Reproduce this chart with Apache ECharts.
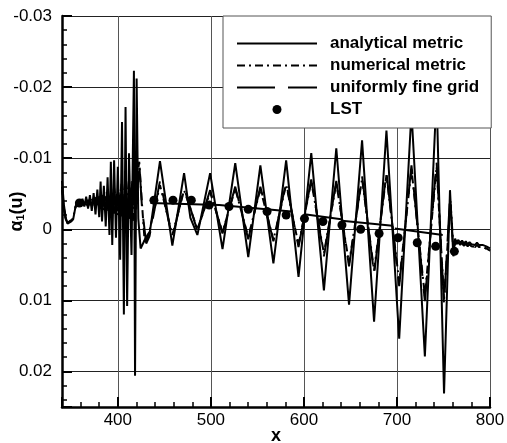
<!DOCTYPE html>
<html lang="en">
<head>
<meta charset="UTF-8">
<title>alpha_i(u)</title>
<script src="https://cdn.jsdelivr.net/npm/echarts@6/dist/echarts.min.js"></script>
<style>
  html, body { margin: 0; padding: 0; background: #fff; }
  #main { width: 507px; height: 443px; }
</style>
</head>
<body>
<div id="main"></div>
<script>
// data, [x, alpha]
var analytical = [
  [340,-0.0068],[342,-0.0035],[344,-0.0016],[346,-0.0008],[348,-0.0007],[350,-0.0011],[352,-0.0014],
  [354,-0.0028],[356,-0.0038],[358,-0.0040],[360,-0.0034],[362,-0.0043],[364,-0.0032],[366,-0.0046],
  [368,-0.0029],[370,-0.0048],[372,-0.0026],[374,-0.0051],[376,-0.0021],[378,-0.0056],[380,-0.0017],
  [381.5,-0.0067],[383,-0.0011],[385,-0.0061],[387,-0.0004],[389,-0.0073],[391,0.0008],[392.5,-0.0095],
  [394,0.0022],[396,-0.0097],[398,0.0012],[400,-0.0088],[402.5,0.0043],[404.5,-0.0151],[406.5,0.0120],
  [408.3,-0.0172],[410,0.0108],[412,-0.0107],[414.7,0.0036],[417.3,-0.0223],[418.5,0.0206],[420.2,-0.0212],
  [422,-0.0015],[424.5,0.0027],[430,0.0012],[434.5,0.0003],[445.3,-0.0096],[458.6,0.0023],[471.2,-0.0079],
  [478,-0.0016],[485.5,0.0008],[499.2,-0.0079],[512.5,0.0028],[526.2,-0.0093],[540.2,0.0039],[553.2,-0.0090],
  [567.2,0.0048],[580.9,-0.0097],[594.2,0.0067],[607.9,-0.0107],[621.5,0.0086],[634.8,-0.0114],[648.5,0.0106],
  [662.5,-0.0125],[675.4,0.0130],[688.7,-0.0139],[702.4,0.0154],[715.6,-0.0165],[730,0.0179],[742.6,-0.0190],
  [750.6,0.0231],[757,-0.0055],[760.6,0.0038],[762.5,0.0013]
];
var numerical = [
  [340,-0.0060],[342,-0.0030],[344,-0.0015],[346,-0.0009],[348,-0.0008],[350,-0.0012],[352,-0.0016],
  [354,-0.0029],[356,-0.0037],[360,-0.0036],[364,-0.0040],[368,-0.0032],[372,-0.0043],[376,-0.0031],
  [380,-0.0047],[384,-0.0027],[388,-0.0052],[392,-0.0024],[396,-0.0058],[400,-0.0020],[404,-0.0064],
  [408,-0.0015],[412,-0.0070],[416,-0.0010],[419.5,-0.0060],[423,-0.0095],[426,-0.0035],[429,0.0020],
  [433,0.0008],[445.3,-0.0062],[458.6,0.0008],[471.2,-0.0055],[485.5,0.0000],[499.2,-0.0052],[512.5,0.0004],
  [526.2,-0.0057],[540.2,0.0011],[553.2,-0.0057],[567.2,0.0015],[580.9,-0.0063],[594.2,0.0022],[607.9,-0.0067],
  [621.5,0.0034],[634.8,-0.0065],[648.5,0.0048],[662.5,-0.0071],[675.4,0.0058],[688.7,-0.0076],[702.4,0.0074],
  [715.6,-0.0085],[730,0.0094],[742.6,-0.0088],[750.6,0.0098],[757.5,-0.0040],[761,0.0032],[763,0.0016]
];
var uniform = [
  [340,-0.0055],[342,-0.0028],[344,-0.0014],[346,-0.0009],[348,-0.0009],[350,-0.0013],[352,-0.0018],
  [354,-0.0030],[356,-0.0037],[360,-0.0038],[364,-0.0034],[368,-0.0041],[372,-0.0033],[376,-0.0044],
  [380,-0.0030],[384,-0.0048],[388,-0.0026],[392,-0.0055],[396,-0.0022],[400,-0.0060],[404,-0.0018],
  [408,-0.0068],[412,-0.0012],[416,-0.0075],[419,-0.0010],[423,-0.0093],[426,-0.0030],[430.5,0.0020],
  [434,0.0010],[445.3,-0.0068],[458.6,0.0012],[471.2,-0.0058],[485.5,0.0002],[499.2,-0.0055],[512.5,0.0006],
  [526.2,-0.0060],[540.2,0.0014],[553.2,-0.0060],[567.2,0.0017],[580.9,-0.0066],[594.2,0.0025],[607.9,-0.0070],
  [621.5,0.0038],[634.8,-0.0068],[648.5,0.0052],[662.5,-0.0075],[675.4,0.0063],[688.7,-0.0080],[702.4,0.0080],
  [715.6,-0.0090],[730,0.0101],[742.6,-0.0095],[750.6,0.0105],[757,-0.0045],[760.6,0.0030],[762.5,0.0015]
];
// smooth wiggly part after the jump, shared by the three curves
var tail = [
  [764,0.0018],[766,0.0015],[768,0.0019],[770,0.0016],[772,0.0020],[774,0.0017],[776,0.0021],
  [778,0.0018],[780,0.0021],[782,0.0019],[784,0.0022],[786,0.0019],[788,0.0022],[790,0.0020],
  [792,0.0022],[794,0.0021],[796,0.0024],[798,0.0025],[800,0.0027]
];
var lstPoints = [
  [358.7,-0.0037],[378.5,-0.0040],[398.3,-0.0040],[418,-0.0040],[438.8,-0.0041],[459.3,-0.0041],
  [479,-0.0041],[498.2,-0.0034],[519.5,-0.0032],[540.2,-0.0028],[560.4,-0.0025],[580.9,-0.0020],
  [600.6,-0.0015],[620.4,-0.0011],[640.9,-0.0006],[661,0.0000],[680.8,0.0006],[701.3,0.0012],
  [721.8,0.0019],[741.6,0.0024],[761.7,0.0031]
];
// straight pieces running through the LST points (null = break)
var lstLine = [
  [435,-0.0037],[509,-0.0034],[586.4,-0.0025],null,
  [600.6,-0.0021],[640.2,-0.0014],null,
  [640.9,-0.0012],[695.2,-0.0005],null,
  [697.7,-0.0001],[749.2,0.0008]
];
var xLabels = [400, 500, 600, 700, 800];

var font = 'Liberation Sans, Arial, Helvetica, sans-serif';

function withTail(arr, shift) {
  return arr.concat(tail.map(function (p) { return [p[0], p[1] + shift]; }));
}

var noSymbol = { color: 'rgba(0,0,0,0)', borderWidth: 0, opacity: 0 };

var chart = echarts.init(document.getElementById('main'));

var option = {
  animation: false,
  backgroundColor: '#fff',
  grid: [
    { left: 62, top: 16, right: 17, bottom: 36, containLabel: false, outerBoundsMode: 'none' },
    { left: 62, top: 16, right: 17, bottom: 36, containLabel: false, outerBoundsMode: 'none' }   // only carries the minor ticks
  ],
  legend: {
    orient: 'vertical',
    left: 223, top: 16,
    padding: [19, 12, 10, 13],
    itemWidth: 80, itemHeight: 9, itemGap: 5,
    backgroundColor: '#fff',
    borderColor: '#555', borderWidth: 1,
    textStyle: { fontFamily: font, fontWeight: 'bold', fontSize: 17, color: '#000', padding: [0, 0, 0, 8] },
    data: [
      { name: 'analytical metric', itemStyle: noSymbol },
      { name: 'numerical metric', itemStyle: noSymbol },
      { name: 'uniformly fine grid', itemStyle: noSymbol },
      'LST'
    ]
  },
  xAxis: [{
    type: 'value', gridIndex: 0, min: 340, max: 800, splitNumber: 5,
    name: 'x', nameLocation: 'middle', nameGap: 20, nameMoveOverlap: false,
    nameTextStyle: { fontFamily: font, fontWeight: 'bold', fontSize: 18, color: '#000' },
    axisLine: { onZero: false, lineStyle: { color: '#000', width: 2.5 } },
    axisTick: { inside: true, length: 10, lineStyle: { color: '#000', width: 2 } },
    axisLabel: {
      color: '#000', fontFamily: font, fontSize: 17, margin: 5,
      formatter: function (v) { return xLabels.indexOf(Math.round(v)) >= 0 && Math.abs(v - Math.round(v)) < 1e-6 ? String(Math.round(v)) : ''; }
    },
    splitLine: { show: true, lineStyle: { color: '#555', width: 1 } }
  }, {
    type: 'value', gridIndex: 1, min: 340, max: 800, interval: 20,
    axisLine: { show: false, onZero: false },
    axisTick: { inside: true, length: 5, lineStyle: { color: '#000', width: 1.5 } },
    axisLabel: { show: false },
    splitLine: { show: false }
  }],
  yAxis: [{
    type: 'value', gridIndex: 0, min: -0.03, max: 0.025, interval: 0.01, inverse: true,
    name: '{a|α}{s|1}{a|(u)}', nameLocation: 'middle', nameGap: 36, nameMoveOverlap: false,
    nameTextStyle: {
      rich: {
        a: { fontFamily: font, fontWeight: 'bold', fontSize: 18, color: '#000' },
        s: { fontFamily: font, fontWeight: 'bold', fontSize: 11, color: '#000', verticalAlign: 'bottom' }
      }
    },
    axisLine: { onZero: false, lineStyle: { color: '#000', width: 2.5 } },
    axisTick: { inside: true, length: 10, lineStyle: { color: '#000', width: 2 } },
    axisLabel: {
      color: '#000', fontFamily: font, fontSize: 17, margin: 10,
      formatter: function (v) {
        if (Math.abs(v * 100 - Math.round(v * 100)) > 1e-6) return '';
        var r = Math.round(v * 100) / 100;
        return r === 0 ? '0' : r.toFixed(2);
      }
    },
    splitLine: { show: true, lineStyle: { color: '#222', width: 1 } }
  }, {
    type: 'value', gridIndex: 1, min: -0.03, max: 0.025, interval: 0.002, inverse: true,
    axisLine: { show: false, onZero: false },
    axisTick: { inside: true, length: 5, lineStyle: { color: '#000', width: 1.5 } },
    axisLabel: { show: false },
    splitLine: { show: false }
  }],
  series: [{
    name: 'analytical metric', type: 'line', symbol: 'none',
    lineStyle: { color: '#000', width: 2 },
    itemStyle: { color: '#000' },
    data: withTail(analytical, 0)
  }, {
    name: 'numerical metric', type: 'line', symbol: 'none',
    lineStyle: { color: '#000', width: 2, type: [8, 4, 2, 4] },
    itemStyle: { color: '#000' },
    data: withTail(numerical, 0.0003)
  }, {
    name: 'uniformly fine grid', type: 'line', symbol: 'none',
    lineStyle: { color: '#000', width: 2, type: [38, 13] },
    itemStyle: { color: '#000' },
    data: withTail(uniform, 0.0003)
  }, {
    name: 'LST line', type: 'line', symbol: 'none',
    lineStyle: { color: '#000', width: 2 },
    connectNulls: false,
    data: lstLine.map(function (p) { return p ? p : ['-', '-']; })
  }, {
    name: 'LST', type: 'scatter', symbol: 'circle', symbolSize: 9,
    itemStyle: { color: '#000', opacity: 1 },
    data: lstPoints
  }]
};

chart.setOption(option);
</script>
</body>
</html>
